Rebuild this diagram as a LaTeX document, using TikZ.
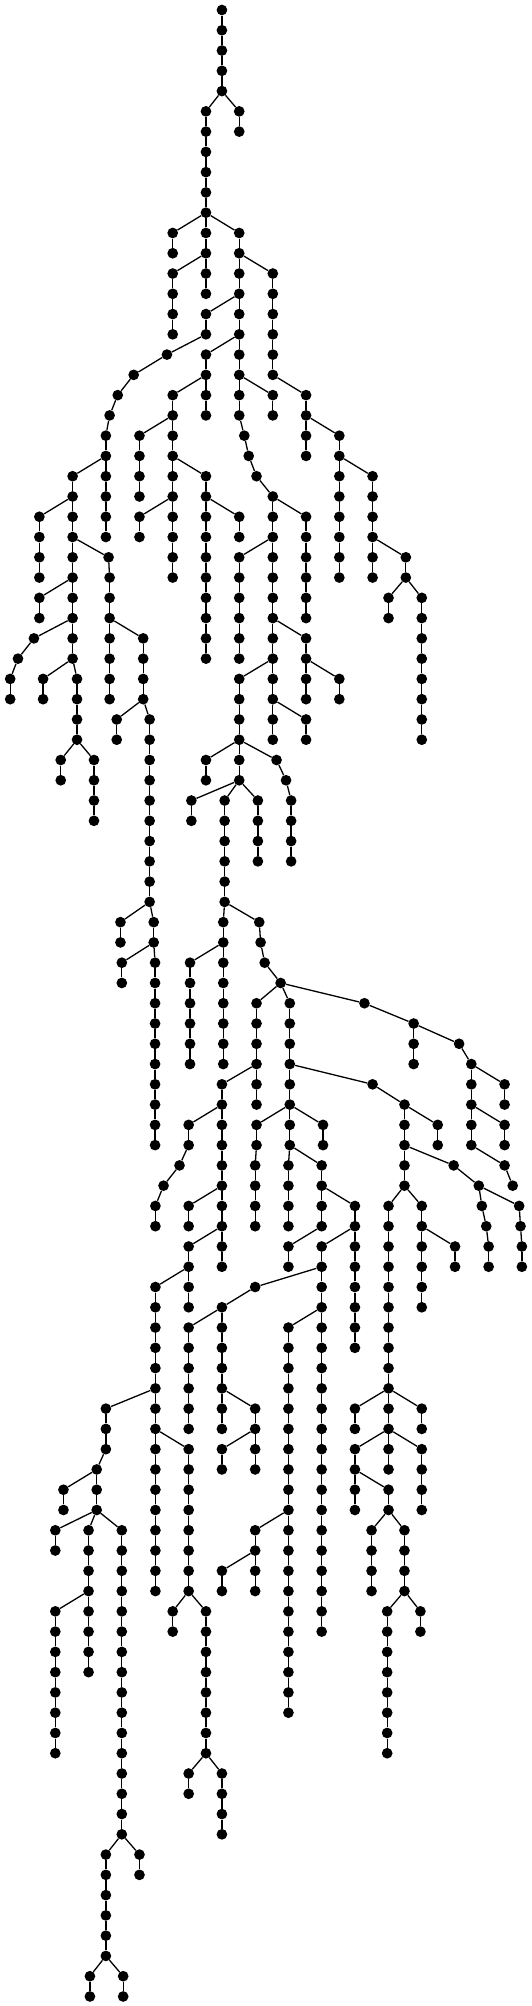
\documentclass[tikz,border=0pt]{standalone}
\begin{document}
\begin{tikzpicture}[x=0.33933pt,y=-20.27pt,
  dot/.style={circle,fill=black,inner sep=0pt,minimum size=10.7pt},
  edge/.style={line width=1.3pt,black}]
\useasboundingbox[fill=white] (0pt,0pt) rectangle (532pt,-2006pt);
\node[dot] (v0-654) at (654,0.4933) {};
\foreach \L/\x/\p in {
1/654/654, 2/654/654, 3/654/654, 4/654/654,
5/607/654, 5/705/654,
6/607/607, 6/705/705,
7/607/607, 8/607/607, 9/607/607, 10/607/607,
11/509/607, 11/607/607, 11/705/607,
12/509/509, 12/607/607, 12/705/705,
13/509/607, 13/607/607, 13/705/705, 13/804/705,
14/509/509, 14/607/607, 14/705/705, 14/804/804,
15/509/509, 15/607/705, 15/705/705, 15/804/804,
16/509/509, 16/607/607, 16/705/705, 16/804/804,
17/492/607, 17/607/705, 17/705/705, 17/804/804,
18/394/492, 18/607/607, 18/705/705, 18/804/804,
19/347/394, 19/509/607, 19/607/607, 19/705/705, 19/804/705, 19/902/804,
20/323/347, 20/509/509, 20/607/607, 20/705/705, 20/804/804, 20/902/902,
21/312/323, 21/411/509, 21/509/509, 21/720/705, 21/902/902, 21/1000/902,
22/312/312, 22/411/411, 22/509/509, 22/733/720, 22/902/902, 22/1000/1000,
23/214/312, 23/312/312, 23/411/411, 23/509/509, 23/607/509, 23/756/733, 23/1000/1000, 23/1098/1000,
24/214/214, 24/312/312, 24/411/411, 24/509/509, 24/607/607, 24/804/756, 24/1000/1000, 24/1098/1098,
25/116/214, 25/214/214, 25/312/312, 25/411/509, 25/509/509, 25/607/607, 25/705/607, 25/804/804, 25/902/804, 25/1000/1000, 25/1098/1098,
26/116/116, 26/214/214, 26/312/312, 26/411/411, 26/509/509, 26/607/607, 26/705/705, 26/804/804, 26/902/902, 26/1000/1000, 26/1098/1098,
27/116/116, 27/214/214, 27/320/214, 27/509/509, 27/607/607, 27/705/804, 27/804/804, 27/902/902, 27/1000/1000, 27/1098/1098, 27/1196/1098,
28/116/116, 28/214/214, 28/323/320, 28/509/509, 28/607/607, 28/705/705, 28/804/804, 28/902/902, 28/1000/1000, 28/1098/1098, 28/1196/1196,
29/116/214, 29/214/214, 29/323/323, 29/607/607, 29/705/705, 29/804/804, 29/902/902, 29/1145/1196, 29/1243/1196,
30/116/116, 30/214/214, 30/323/323, 30/607/607, 30/705/705, 30/804/804, 30/902/902, 30/1145/1145, 30/1243/1243,
31/100/214, 31/214/214, 31/323/323, 31/422/323, 31/607/607, 31/705/705, 31/804/804, 31/902/804, 31/1243/1243,
32/53/100, 32/214/214, 32/323/323, 32/422/422, 32/607/607, 32/705/705, 32/804/804, 32/902/902, 32/1243/1243,
33/30/53, 33/127/214, 33/227/214, 33/323/323, 33/422/422, 33/705/804, 33/804/804, 33/902/902, 33/1000/902, 33/1243/1243,
34/30/30, 34/127/127, 34/227/227, 34/323/323, 34/422/422, 34/705/705, 34/804/804, 34/902/902, 34/1000/1000, 34/1243/1243,
35/227/227, 35/344/422, 35/441/422, 35/705/705, 35/804/804, 35/902/804, 35/1243/1243,
36/227/227, 36/344/344, 36/441/441, 36/705/705, 36/804/804, 36/902/902, 36/1243/1243,
37/179/227, 37/277/227, 37/441/441, 37/607/705, 37/705/705, 37/815/705,
38/179/179, 38/277/277, 38/441/441, 38/607/607, 38/705/705, 38/843/815,
39/277/277, 39/441/441, 39/564/705, 39/662/705, 39/760/705, 39/858/843,
40/277/277, 40/441/441, 40/564/564, 40/662/662, 40/760/760, 40/858/858,
41/441/441, 41/662/662, 41/760/760, 41/858/858,
42/441/441, 42/662/662, 42/760/760, 42/858/858,
43/441/441, 43/662/662,
44/441/441, 44/662/662,
45/355/441, 45/453/441, 45/658/662, 45/764/662,
46/355/355, 46/453/453, 46/658/658, 46/768/764,
47/359/453, 47/457/453, 47/560/658, 47/658/658, 47/780/768,
48/359/359, 48/457/457, 48/560/560, 48/658/658, 48/827/780,
49/457/457, 49/560/560, 49/658/658, 49/756/827, 49/854/827, 49/1074/827,
50/457/457, 50/560/560, 50/658/658, 50/756/756, 50/854/854, 50/1219/1074,
51/457/457, 51/560/560, 51/658/658, 51/756/756, 51/854/854, 51/1219/1219, 51/1353/1219,
52/457/457, 52/560/560, 52/658/658, 52/756/756, 52/854/854, 52/1219/1219, 52/1389/1353,
53/457/457, 53/654/756, 53/756/756, 53/854/854, 53/1098/854, 53/1389/1389, 53/1487/1389,
54/457/457, 54/654/654, 54/756/756, 54/854/854, 54/1192/1098, 54/1389/1389, 54/1487/1487,
55/457/457, 55/556/654, 55/654/654, 55/756/854, 55/854/854, 55/952/854, 55/1192/1192, 55/1290/1192, 55/1389/1389, 55/1487/1389,
56/457/457, 56/556/556, 56/654/654, 56/756/756, 56/854/854, 56/952/952, 56/1192/1192, 56/1290/1290, 56/1389/1389, 56/1487/1487,
57/529/556, 57/654/654, 57/752/756, 57/850/854, 57/948/854, 57/1192/1192, 57/1337/1192, 57/1487/1389,
58/482/529, 58/654/654, 58/752/752, 58/850/850, 58/948/948, 58/1192/1192, 58/1411/1337, 58/1511/1487,
59/458/482, 59/556/654, 59/654/654, 59/752/752, 59/850/850, 59/948/948, 59/1046/948, 59/1145/1192, 59/1243/1192, 59/1420/1411, 59/1530/1411,
60/458/458, 60/556/556, 60/654/654, 60/752/752, 60/850/850, 60/948/948, 60/1046/1046, 60/1145/1145, 60/1243/1243, 60/1433/1420, 60/1534/1530,
61/556/654, 61/654/654, 61/850/948, 61/948/1046, 61/1046/1046, 61/1145/1145, 61/1243/1243, 61/1341/1243, 61/1440/1433, 61/1538/1534,
62/556/556, 62/654/654, 62/850/850, 62/948/948, 62/1046/1046, 62/1145/1145, 62/1243/1243, 62/1341/1341, 62/1440/1440, 62/1538/1538,
63/458/556, 63/556/556, 63/752/948, 63/948/948, 63/1046/1046, 63/1145/1145, 63/1243/1243,
64/458/458, 64/556/556, 64/654/752, 64/948/948, 64/1046/1046, 64/1145/1145, 64/1243/1243,
65/458/458, 65/556/654, 65/654/654, 65/850/948, 65/948/948, 65/1046/1046, 65/1145/1145,
66/458/458, 66/556/556, 66/654/654, 66/850/850, 66/948/948, 66/1046/1046, 66/1145/1145,
67/458/458, 67/556/556, 67/654/654, 67/850/850, 67/948/948, 67/1145/1145,
68/458/458, 68/556/556, 68/654/654, 68/850/850, 68/948/948, 68/1145/1145,
69/312/458, 69/458/458, 69/556/556, 69/654/654, 69/752/654, 69/850/850, 69/948/948, 69/1046/1145, 69/1145/1145, 69/1243/1145,
70/312/312, 70/458/458, 70/556/556, 70/654/654, 70/752/752, 70/850/850, 70/948/948, 70/1046/1046, 70/1145/1145, 70/1243/1243,
71/312/312, 71/458/458, 71/556/458, 71/654/752, 71/752/752, 71/850/850, 71/948/948, 71/1046/1145, 71/1145/1145, 71/1243/1145,
72/285/312, 72/458/458, 72/556/556, 72/654/654, 72/752/752, 72/850/850, 72/948/948, 72/1046/1046, 72/1145/1145, 72/1243/1243,
73/187/285, 73/285/285, 73/458/458, 73/556/556, 73/850/850, 73/948/948, 73/1046/1046, 73/1145/1046, 73/1243/1243,
74/187/187, 74/285/285, 74/458/458, 74/556/556, 74/850/850, 74/948/948, 74/1046/1046, 74/1145/1145, 74/1243/1243,
75/163/285, 75/261/285, 75/359/285, 75/458/458, 75/556/556, 75/752/850, 75/850/850, 75/948/948, 75/1095/1145, 75/1192/1145,
76/163/163, 76/261/261, 76/359/359, 76/458/458, 76/556/556, 76/752/752, 76/850/850, 76/948/948, 76/1095/1095, 76/1192/1192,
77/261/261, 77/359/359, 77/458/458, 77/556/556, 77/654/752, 77/752/752, 77/850/850, 77/948/948, 77/1095/1095, 77/1192/1192,
78/261/261, 78/359/359, 78/458/458, 78/556/556, 78/654/654, 78/752/752, 78/850/850, 78/948/948, 78/1095/1095, 78/1192/1192,
79/163/261, 79/261/261, 79/359/359, 79/509/556, 79/607/556, 79/850/850, 79/948/948, 79/1141/1192, 79/1239/1192,
80/163/163, 80/261/261, 80/359/359, 80/509/509, 80/607/607, 80/850/850, 80/948/948, 80/1141/1141, 80/1239/1239,
81/163/163, 81/261/261, 81/359/359, 81/607/607, 81/850/850, 81/1141/1141,
82/163/163, 82/261/261, 82/359/359, 82/607/607, 82/850/850, 82/1141/1141,
83/163/163, 83/359/359, 83/607/607, 83/850/850, 83/1141/1141,
84/163/163, 84/359/359, 84/607/607, 84/850/850, 84/1141/1141,
85/163/163, 85/359/359, 85/607/607, 85/1141/1141,
86/163/163, 86/359/359, 86/607/607, 86/1141/1141,
87/359/359, 87/556/607, 87/654/607,
88/359/359, 88/556/556, 88/654/654,
89/359/359, 89/654/654,
90/359/359, 90/654/654,
91/312/359, 91/411/359,
92/312/312, 92/411/411,
93/312/312, 94/312/312, 95/312/312, 96/312/312,
97/265/312, 97/363/312,
98/265/265, 98/363/363}
{
  \pgfmathtruncatemacro{\Lp}{\L-1}
  \node[dot] (v\L-\x) at (\x,\L+0.4933) {};
  \draw[edge] (v\Lp-\p) -- (v\L-\x);
}
\end{tikzpicture}
\end{document}
